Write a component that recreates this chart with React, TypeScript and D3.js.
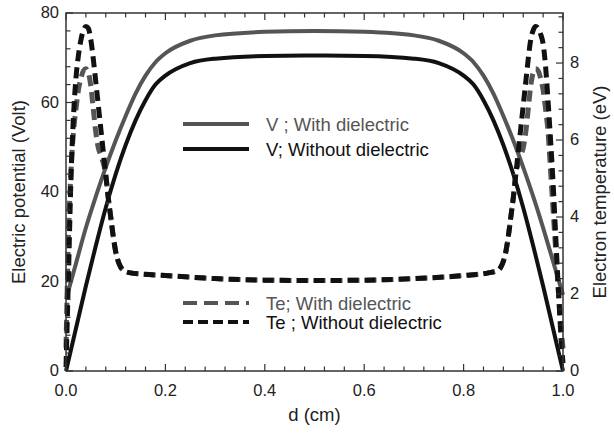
import React from "react";
import * as d3 from "d3";

// x positions (cm) for the potential curves
const dV = [0, 0.02, 0.04, 0.06, 0.08, 0.1, 0.12, 0.14, 0.16, 0.18, 0.2, 0.25, 0.3, 0.4, 0.5, 0.6, 0.7, 0.75, 0.8, 0.82, 0.84, 0.86, 0.88, 0.9, 0.92, 0.94, 0.96, 0.98, 1.0];
const vWith = [16, 24, 32, 39, 45.5, 51.5, 57, 62, 66, 69, 71, 73.8, 75, 75.8, 76, 75.8, 75, 73.8, 71, 69, 66, 62, 57, 51.5, 45.5, 39, 32, 24.5, 17];
const vWithout = [0, 9.5, 19, 28, 36.5, 44, 50.5, 56, 60.5, 64, 66, 68.8, 69.8, 70.4, 70.5, 70.4, 69.8, 68.8, 66, 64, 60.5, 56, 50.5, 44, 36.5, 28, 19, 9.5, 0];

// x positions (cm) for the electron temperature curves
const dTe = [0, 0.005, 0.01, 0.015, 0.02, 0.025, 0.03, 0.035, 0.04, 0.045, 0.05, 0.055, 0.06, 0.065, 0.07, 0.075, 0.08, 0.085, 0.09, 0.095, 0.1, 0.105, 0.11, 0.115, 0.12, 0.13, 0.15, 0.2, 0.3, 0.4, 0.5, 0.6, 0.7, 0.8, 0.85, 0.87, 0.875, 0.88, 0.885, 0.89, 0.895, 0.9, 0.905, 0.91, 0.915, 0.92, 0.925, 0.93, 0.935, 0.94, 0.945, 0.95, 0.955, 0.96, 0.965, 0.97, 0.975, 0.98, 0.985, 0.99, 0.995, 1.0];
const teWithout = [0.1, 2.5, 5.0, 6.6, 7.6, 8.2, 8.6, 8.85, 8.95, 8.9, 8.6, 8.1, 7.5, 6.9, 6.3, 5.7, 5.1, 4.5, 4.0, 3.5, 3.1, 2.85, 2.7, 2.62, 2.58, 2.55, 2.52, 2.48, 2.4, 2.36, 2.35, 2.36, 2.4, 2.48, 2.55, 2.62, 2.7, 2.85, 3.1, 3.5, 4.0, 4.5, 5.1, 5.7, 6.3, 6.9, 7.5, 8.1, 8.6, 8.85, 8.95, 8.9, 8.75, 8.5, 7.9, 7.0, 6.0, 4.9, 3.6, 2.3, 1.1, 0.2];
const teWith = [0.6, 3.5, 5.2, 6.2, 6.8, 7.3, 7.6, 7.8, 7.85, 7.75, 7.4, 6.8, 6.2, 5.8, 5.6, 5.4, 5.1, 4.5, 4.0, 3.5, 3.1, 2.85, 2.7, 2.62, 2.58, 2.55, 2.52, 2.48, 2.4, 2.36, 2.35, 2.36, 2.4, 2.48, 2.55, 2.62, 2.7, 2.85, 3.1, 3.5, 4.0, 4.5, 5.1, 5.4, 5.6, 5.8, 6.2, 6.8, 7.4, 7.75, 7.85, 7.8, 7.6, 7.3, 6.8, 6.2, 5.2, 4.2, 3.2, 2.2, 1.3, 0.6];

const xTickLabels = [0, 0.2, 0.4, 0.6, 0.8, 1.0];
const leftTickLabels = [0, 20, 40, 60, 80];
const rightTickLabels = [0, 2, 4, 6, 8];

const GRAY = "#555";
const BLACK = "#111";
const FONT = "Liberation Sans, Arial, sans-serif";

export default function App() {
  const width = 614;
  const height = 435;
  const left = 66, right = 563, top = 13, bottom = 371;

  const x = d3.scaleLinear().domain([0, 1]).range([left, right]);
  const yV = d3.scaleLinear().domain([0, 80]).range([bottom, top]);
  const yT = d3.scaleLinear().domain([0, 9.3]).range([bottom, top]);

  const lineV = d3.line<[number, number]>().x(d => x(d[0])).y(d => yV(d[1])).curve(d3.curveMonotoneX);
  const lineT = d3.line<[number, number]>().x(d => x(d[0])).y(d => yT(d[1])).curve(d3.curveMonotoneX);

  const zip = (xs: number[], ys: number[]) => xs.map((v, i) => [v, ys[i]] as [number, number]);

  const xMinor = d3.range(0, 1.0001, 0.04);
  const vMinor = d3.range(0, 80.001, 4);
  const tMinor = d3.range(0, 9.3, 0.4);

  return (
    <svg width={width} height={height} style={{ position: "absolute", left: 0, top: 0, background: "#fff" }}
      fontFamily={FONT}>
      {/* curves */}
      <g fill="none">
        <path d={lineV(zip(dV, vWith)) ?? ""} stroke={GRAY} strokeWidth={4} />
        <path d={lineV(zip(dV, vWithout)) ?? ""} stroke={BLACK} strokeWidth={4} />
        <path d={lineT(zip(dTe, teWith)) ?? ""} stroke={GRAY} strokeWidth={5} strokeDasharray="11 6" />
        <path d={lineT(zip(dTe, teWithout)) ?? ""} stroke={BLACK} strokeWidth={5} strokeDasharray="11 6" />
      </g>

      {/* frame */}
      <rect x={left} y={top} width={right - left} height={bottom - top} fill="none" stroke="#333" strokeWidth={1.5} />

      {/* ticks on all four sides, pointing inward */}
      <g stroke="#333" strokeWidth={1.2}>
        {xMinor.map((t, i) => {
          const major = xTickLabels.some(m => Math.abs(m - t) < 1e-6);
          const len = major ? 7 : 4.5;
          return (
            <g key={"x" + i}>
              <line x1={x(t)} x2={x(t)} y1={bottom} y2={bottom - len} />
              <line x1={x(t)} x2={x(t)} y1={top} y2={top + len} />
            </g>
          );
        })}
        {vMinor.map((t, i) => {
          const major = leftTickLabels.includes(Math.round(t * 100) / 100);
          const len = major ? 7 : 4.5;
          return <line key={"v" + i} x1={left} x2={left + len} y1={yV(t)} y2={yV(t)} />;
        })}
        {tMinor.map((t, i) => {
          const major = rightTickLabels.some(m => Math.abs(m - t) < 1e-6);
          const len = major ? 7 : 4.5;
          return <line key={"t" + i} x1={right} x2={right - len} y1={yT(t)} y2={yT(t)} />;
        })}
      </g>

      {/* tick labels */}
      <g fontSize={16.5} fill="#222">
        {xTickLabels.map(t => (
          <text key={"xl" + t} x={x(t)} y={bottom + 25} textAnchor="middle">{d3.format(".1f")(t)}</text>
        ))}
        {leftTickLabels.map(t => (
          <text key={"vl" + t} x={left - 7} y={yV(t) + 5} textAnchor="end">{t}</text>
        ))}
        {rightTickLabels.map(t => (
          <text key={"tl" + t} x={right + 7} y={yT(t) + 5} textAnchor="start">{t}</text>
        ))}
      </g>

      {/* axis titles */}
      <g fontSize={18.5} fill="#222">
        <text x={x(0.5)} y={421} textAnchor="middle">d (cm)</text>
        <text transform={`translate(25,${(top + bottom) / 2}) rotate(-90)`} textAnchor="middle">Electric potential (Volt)</text>
        <text transform={`translate(606,${(top + bottom) / 2}) rotate(-90)`} textAnchor="middle">Electron temperature (eV)</text>
      </g>

      {/* legends */}
      <g fontSize={18.5}>
        <line x1={183} x2={249} y1={124} y2={124} stroke={GRAY} strokeWidth={4} />
        <text x={266} y={131} fill={GRAY}>V ; With dielectric</text>
        <line x1={183} x2={249} y1={149} y2={149} stroke={BLACK} strokeWidth={4} />
        <text x={266} y={156} fill={BLACK}>V; Without dielectric</text>
        <line x1={183} x2={249} y1={303} y2={303} stroke={GRAY} strokeWidth={4} strokeDasharray="14 7" />
        <text x={266} y={310} fill={GRAY}>Te; With dielectric</text>
        <line x1={183} x2={249} y1={322} y2={322} stroke={BLACK} strokeWidth={4} strokeDasharray="10 5" />
        <text x={266} y={329} fill={BLACK}>Te ; Without dielectric</text>
      </g>
    </svg>
  );
}
